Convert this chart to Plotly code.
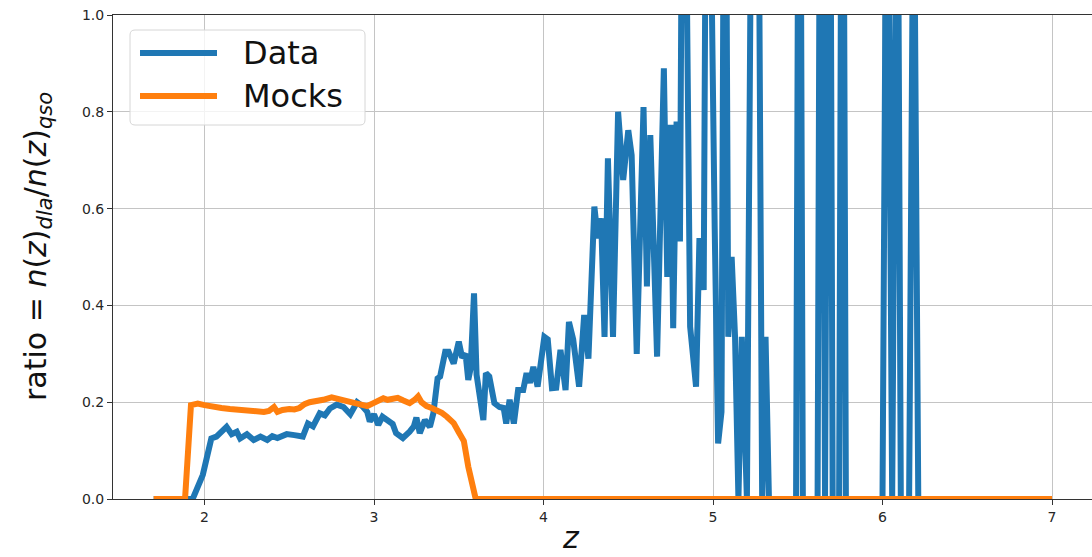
import plotly.graph_objects as go

# Redshift grid and DLA/QSO number-density ratio for the observed catalogue
z_data = [1.70, 1.93, 1.99, 2.015, 2.04, 2.07, 2.10, 2.13, 2.16, 2.19, 2.21, 2.25,
          2.29, 2.33, 2.37, 2.40, 2.43, 2.485, 2.53, 2.58, 2.61, 2.64, 2.68, 2.71,
          2.74, 2.78, 2.82, 2.86, 2.90, 2.93, 2.96, 2.975, 3.00, 3.025, 3.05, 3.07,
          3.09, 3.11, 3.13, 3.17, 3.21, 3.235, 3.25, 3.27, 3.30, 3.33, 3.35, 3.375,
          3.39, 3.42, 3.44, 3.47, 3.50, 3.52, 3.54, 3.556, 3.57, 3.59, 3.605, 3.625,
          3.645, 3.66, 3.68, 3.71, 3.74, 3.765, 3.78, 3.80, 3.825, 3.85, 3.88, 3.90,
          3.92, 3.94, 3.965, 4.005, 4.025, 4.05, 4.075, 4.10, 4.13, 4.15, 4.175, 4.21,
          4.24, 4.265, 4.30, 4.32, 4.34, 4.36, 4.38, 4.41, 4.44, 4.47, 4.50, 4.52,
          4.55, 4.59, 4.61, 4.63, 4.67, 4.71, 4.73, 4.75, 4.765, 4.785, 4.805, 4.825,
          4.865, 4.90, 4.92, 4.945, 4.965, 5.01, 5.03, 5.05, 5.07, 5.09, 5.11, 5.13,
          5.15, 5.17, 5.20, 5.25, 5.29, 5.31, 5.33, 5.49, 5.51, 5.53, 5.617, 5.637,
          5.661, 5.686, 5.706, 5.744, 5.764, 5.784, 6.00, 6.027, 6.057, 6.087, 6.108,
          6.157, 6.184, 6.211, 7.00]
ratio_data = [0.0, 0.0, 0.05, 0.087, 0.125, 0.129, 0.139, 0.149, 0.134, 0.139, 0.125, 0.134,
              0.122, 0.129, 0.122, 0.130, 0.126, 0.134, 0.132, 0.129, 0.156, 0.150, 0.177, 0.173,
              0.187, 0.195, 0.190, 0.175, 0.200, 0.192, 0.180, 0.160, 0.175, 0.153, 0.170, 0.165,
              0.163, 0.155, 0.136, 0.126, 0.139, 0.150, 0.168, 0.136, 0.163, 0.149, 0.177, 0.249,
              0.253, 0.304, 0.304, 0.280, 0.325, 0.292, 0.300, 0.246, 0.270, 0.425, 0.257, 0.211,
              0.163, 0.260, 0.253, 0.198, 0.190, 0.188, 0.156, 0.205, 0.156, 0.225, 0.225, 0.260,
              0.240, 0.273, 0.232, 0.335, 0.330, 0.229, 0.230, 0.308, 0.225, 0.366, 0.330, 0.232,
              0.380, 0.290, 0.604, 0.539, 0.580, 0.335, 0.704, 0.335, 0.800, 0.659, 0.762, 0.710,
              0.300, 0.810, 0.439, 0.752, 0.294, 0.890, 0.459, 0.773, 0.353, 0.780, 0.532, 1.800,
              0.356, 0.232, 0.539, 0.432, 1.800, 0.559, 0.115, 0.180, 1.800, 0.335, 0.500, 0.335,
              0.0, 0.335, 0.0, 2.500, 0.0, 0.335, 0.0, 0.0, 2.0, 0.0, 0.0, 2.0,
              0.0, 2.0, 0.0, 0.0, 2.0, 0.0, 0.0, 1.6, 0.0, 1.6, 0.0,
              0.0, 1.4, 0.0, 0.0]

# Same ratio measured on the mock catalogue
z_mock = [1.70, 1.885, 1.92, 1.96, 2.00, 2.05, 2.10, 2.15, 2.20, 2.25, 2.30, 2.35,
          2.38, 2.41, 2.43, 2.46, 2.50, 2.53, 2.56, 2.59, 2.62, 2.66, 2.70, 2.75,
          2.80, 2.84, 2.88, 2.92, 2.96, 2.99, 3.02, 3.055, 3.08, 3.11, 3.14, 3.17,
          3.21, 3.24, 3.26, 3.28, 3.31, 3.34, 3.37, 3.40, 3.43, 3.47, 3.50, 3.53,
          3.556, 3.60, 7.00]
ratio_mock = [0.0, 0.0, 0.194, 0.197, 0.194, 0.190, 0.188, 0.186, 0.184, 0.181, 0.179, 0.180,
              0.182, 0.190, 0.180, 0.184, 0.186, 0.185, 0.188, 0.196, 0.200, 0.201, 0.205, 0.210,
              0.206, 0.203, 0.200, 0.195, 0.192, 0.197, 0.203, 0.208, 0.205, 0.207, 0.209, 0.204,
              0.198, 0.205, 0.212, 0.200, 0.192, 0.188, 0.184, 0.178, 0.170, 0.157, 0.138, 0.120,
              0.067, 0.0, 0.0]

x_ticks = [2, 3, 4, 5, 6, 7]
y_ticks = [0.0, 0.2, 0.4, 0.6, 0.8, 1.0]
series_names = ["Data", "Mocks"]
series_colors = ["#1f77b4", "#ff7f0e"]

W, H = 1092, 557
ML, MR, MT, MB = 113, 0, 15, 58
PW, PH = W - ML - MR, H - MT - MB


def px(xp):
    return (xp - ML) / PW


def py(yp):
    return (H - MB - yp) / PH


FONT = "DejaVu Sans"
LW = 6

fig = go.Figure()
fig.add_trace(go.Scatter(x=z_data, y=ratio_data, mode="lines", name=series_names[0],
                         line=dict(color=series_colors[0], width=LW), showlegend=False))
fig.add_trace(go.Scatter(x=z_mock, y=ratio_mock, mode="lines", name=series_names[1],
                         line=dict(color=series_colors[1], width=LW), showlegend=False))

# Legend box drawn by hand so the sample lines can be long
bx0, by0, bx1, by1, r = 130, 30, 365, 125, 5
x0, x1 = px(bx0), px(bx1)
y0, y1 = py(by1), py(by0)
rx, ry = r / PW, r / PH
path = (f"M{x0+rx},{y1} L{x1-rx},{y1} Q{x1},{y1} {x1},{y1-ry} "
        f"L{x1},{y0+ry} Q{x1},{y0} {x1-rx},{y0} L{x0+rx},{y0} Q{x0},{y0} {x0},{y0+ry} "
        f"L{x0},{y1-ry} Q{x0},{y1} {x0+rx},{y1} Z")
shapes = [dict(type="path", xref="paper", yref="paper", path=path,
               line=dict(color="#d6d6d6", width=1), fillcolor="rgba(255,255,255,0.8)",
               layer="above")]
annotations = []
for i, (name, col) in enumerate(zip(series_names, series_colors)):
    yy = 53 + 43 * i
    shapes.append(dict(type="line", xref="paper", yref="paper",
                       x0=px(140), x1=px(217), y0=py(yy), y1=py(yy),
                       line=dict(color=col, width=LW), layer="above"))
    annotations.append(dict(text=name, xref="paper", yref="paper", x=px(241), y=py(yy),
                            xanchor="left", yanchor="middle", showarrow=False,
                            font=dict(family=FONT, size=32, color="#111")))

# Axis titles
annotations.append(dict(
    text="ratio = <i>n</i>(<i>z</i>)<sub><i>dla</i></sub>/<i>n</i>(<i>z</i>)<sub><i>qso</i></sub>",
    xref="paper", yref="paper", x=px(38), y=py(247), textangle=-90,
    xanchor="center", yanchor="middle", showarrow=False,
    font=dict(family=FONT, size=30, color="#111")))
annotations.append(dict(
    text="<i>z</i>", xref="paper", yref="paper", x=px(571), y=py(537),
    xanchor="center", yanchor="middle", showarrow=False,
    font=dict(family=FONT, size=30, color="#111")))

fig.update_layout(
    width=W, height=H,
    margin=dict(l=ML, r=MR, t=MT, b=MB, pad=0),
    paper_bgcolor="white", plot_bgcolor="white",
    shapes=shapes, annotations=annotations,
    showlegend=False,
    xaxis=dict(range=[1.46, 7.236], tickvals=x_ticks, ticktext=[str(v) for v in x_ticks],
               showgrid=True, gridcolor="#c4c4c4", gridwidth=1,
               showline=True, linecolor="#333", linewidth=1, mirror=True,
               ticks="outside", ticklen=5, tickcolor="#333", tickwidth=1,
               tickfont=dict(family=FONT, size=14, color="#262626"),
               zeroline=False),
    yaxis=dict(range=[0, 1], tickvals=y_ticks, ticktext=[f"{v:.1f}" for v in y_ticks],
               showgrid=True, gridcolor="#c4c4c4", gridwidth=1,
               showline=True, linecolor="#333", linewidth=1, mirror=False,
               ticks="outside", ticklen=5, tickcolor="#333", tickwidth=1,
               tickfont=dict(family=FONT, size=14, color="#262626"),
               zeroline=False),
)

fig.write_html("out.html")
